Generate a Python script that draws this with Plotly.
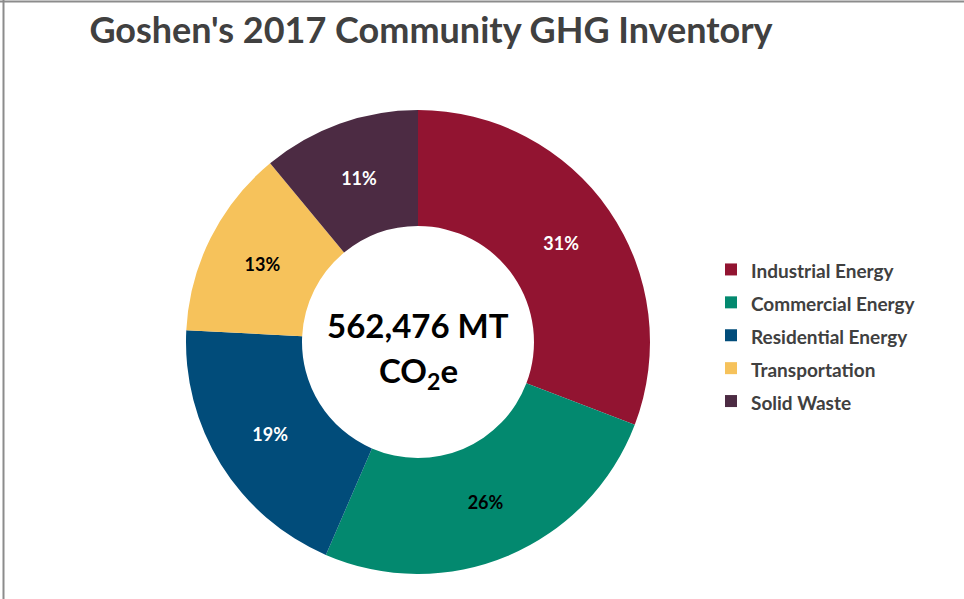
import plotly.graph_objects as go

categories = ["Industrial Energy", "Commercial Energy", "Residential Energy", "Transportation", "Solid Waste"]
shares = [30.8, 25.7, 19.3, 13.2, 11.0]
colors = ["#921431", "#03896F", "#014C7A", "#F6C25B", "#4C2B43"]
label_colors = ["white", "black", "white", "black", "white"]
title_text = "Goshen's 2017 Community GHG Inventory"
total_line1 = "562,476 MT"
total_line2 = "CO<sub>2</sub>e"

W, H = 964, 599
cx, cy, R = 418, 342, 232

legend_labels = [f"<span style='font-size:19px'><b>{c}</b></span>" for c in categories]

fig = go.Figure(go.Pie(
    labels=legend_labels,
    values=shares,
    hole=0.5,
    sort=False,
    direction="clockwise",
    rotation=0,
    marker=dict(colors=colors, line=dict(width=0)),
    textinfo="percent",
    texttemplate="%{percent:.0%}",
    textposition="inside",
    insidetextorientation="horizontal",
    insidetextfont=dict(family="Lato", size=18, color=label_colors, weight="bold"),
    domain=dict(x=[(cx - R) / W, (cx + R) / W], y=[1 - (cy + R) / H, 1 - (cy - R) / H]),
    hoverinfo="label+percent",
))

fig.update_layout(
    width=W, height=H,
    margin=dict(l=0, r=0, t=0, b=0),
    paper_bgcolor="white",
    plot_bgcolor="white",
    font=dict(family="Lato", color="#404040"),
    title=dict(text=title_text, x=431 / W, xanchor="center", y=1 - 30 / H, yanchor="middle",
               yref="container", xref="container",
               font=dict(family="Lato", size=36, color="#404040", weight="bold")),
    legend=dict(x=711 / W, xanchor="left", y=1 - 335.5 / H, yanchor="middle",
                font=dict(family="Lato", size=23, color="#404040", weight="bold"),
                bgcolor="rgba(0,0,0,0)"),
    annotations=[
        dict(text=total_line1, x=cx / W, y=1 - 325 / H, xref="paper", yref="paper",
             showarrow=False, xanchor="center", yanchor="middle",
             font=dict(family="Lato", size=33, color="black", weight="bold")),
        dict(text=total_line2, x=cx / W, y=1 - 372 / H, xref="paper", yref="paper",
             showarrow=False, xanchor="center", yanchor="middle",
             font=dict(family="Lato", size=33, color="black", weight="bold")),
    ],
    shapes=[
        dict(type="line", xref="paper", yref="paper", x0=0, x1=1, y0=1 - 1.5 / H, y1=1 - 1.5 / H,
             line=dict(color="#8C8C8C", width=2)),
        dict(type="line", xref="paper", yref="paper", x0=3.5 / W, x1=3.5 / W, y0=0, y1=1,
             line=dict(color="#8C8C8C", width=2)),
    ],
)

fig.write_html("out.html", config={"displayModeBar": False},
               post_script="document.body.style.margin='0';document.body.style.overflow='hidden';")
